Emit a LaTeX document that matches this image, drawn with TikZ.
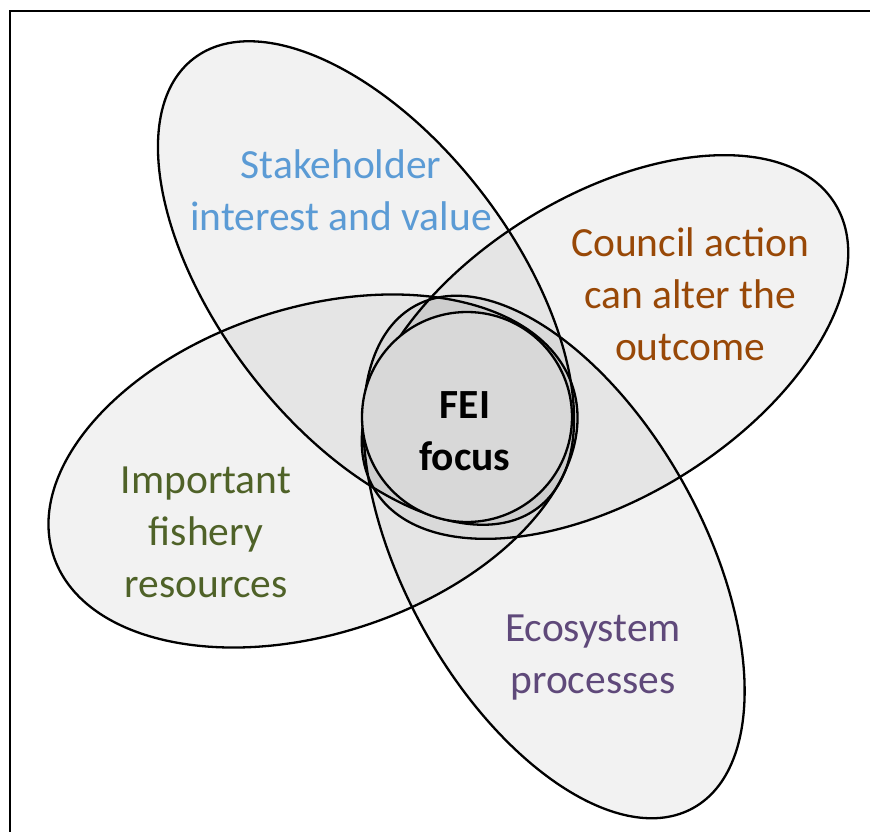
\documentclass[tikz,border=0pt]{standalone}
\usepackage{fontspec}
\setmainfont{Carlito}
\definecolor{cblue}{HTML}{5B9BD5}
\definecolor{cbrown}{HTML}{984807}
\definecolor{cgreen}{HTML}{4F6228}
\definecolor{cpurple}{HTML}{5F497A}
\definecolor{core}{HTML}{D8D8D8}
\begin{document}
\begin{tikzpicture}[x=1pt,y=-1pt,
  petal/.style={draw=black, line width=2.3pt, fill=black, fill opacity=0.05},
  lbl/.style={align=center, font=\fontsize{41.5}{52}\selectfont, inner sep=0pt, anchor=base}]
\useasboundingbox (0,0) rectangle (870,832);
\fill[white] (0,0) rectangle (870,832);
\draw[line width=2pt] (10,832) -- (10,11) -- (870,11);
% petals
\path[petal, rotate around={-52.5:(366,283)}] (366,283) ellipse [x radius=283, y radius=147];
\path[petal, rotate around={32:(605,347)}] (605,347) ellipse [x radius=271, y radius=150];
\path[petal, rotate around={18:(313,471)}] (313,471) ellipse [x radius=273, y radius=163];
\path[petal, rotate around={-61:(554,557)}] (554,557) ellipse [x radius=287, y radius=149];
% core
\path[draw=black, line width=2.3pt, fill=core] (467,417) circle [radius=105];
% labels (anchor base = baseline of the last line)
\node[lbl, text=cblue] (stake) at (341,230) {Stakeholder\\interest and value};
\node[lbl, text=cbrown] (council) at (690,360) {Council action\\can alter the\\outcome};
\node[lbl, text=cgreen] (fish) at (206,597) {Important\\fishery\\resources};
\node[lbl, text=cpurple] (eco) at (593,693) {Ecosystem\\processes};
\node[lbl, text=black, font=\fontsize{41.5}{52}\selectfont\bfseries] (fei) at (465,470) {FEI\\focus};
\end{tikzpicture}
\end{document}
